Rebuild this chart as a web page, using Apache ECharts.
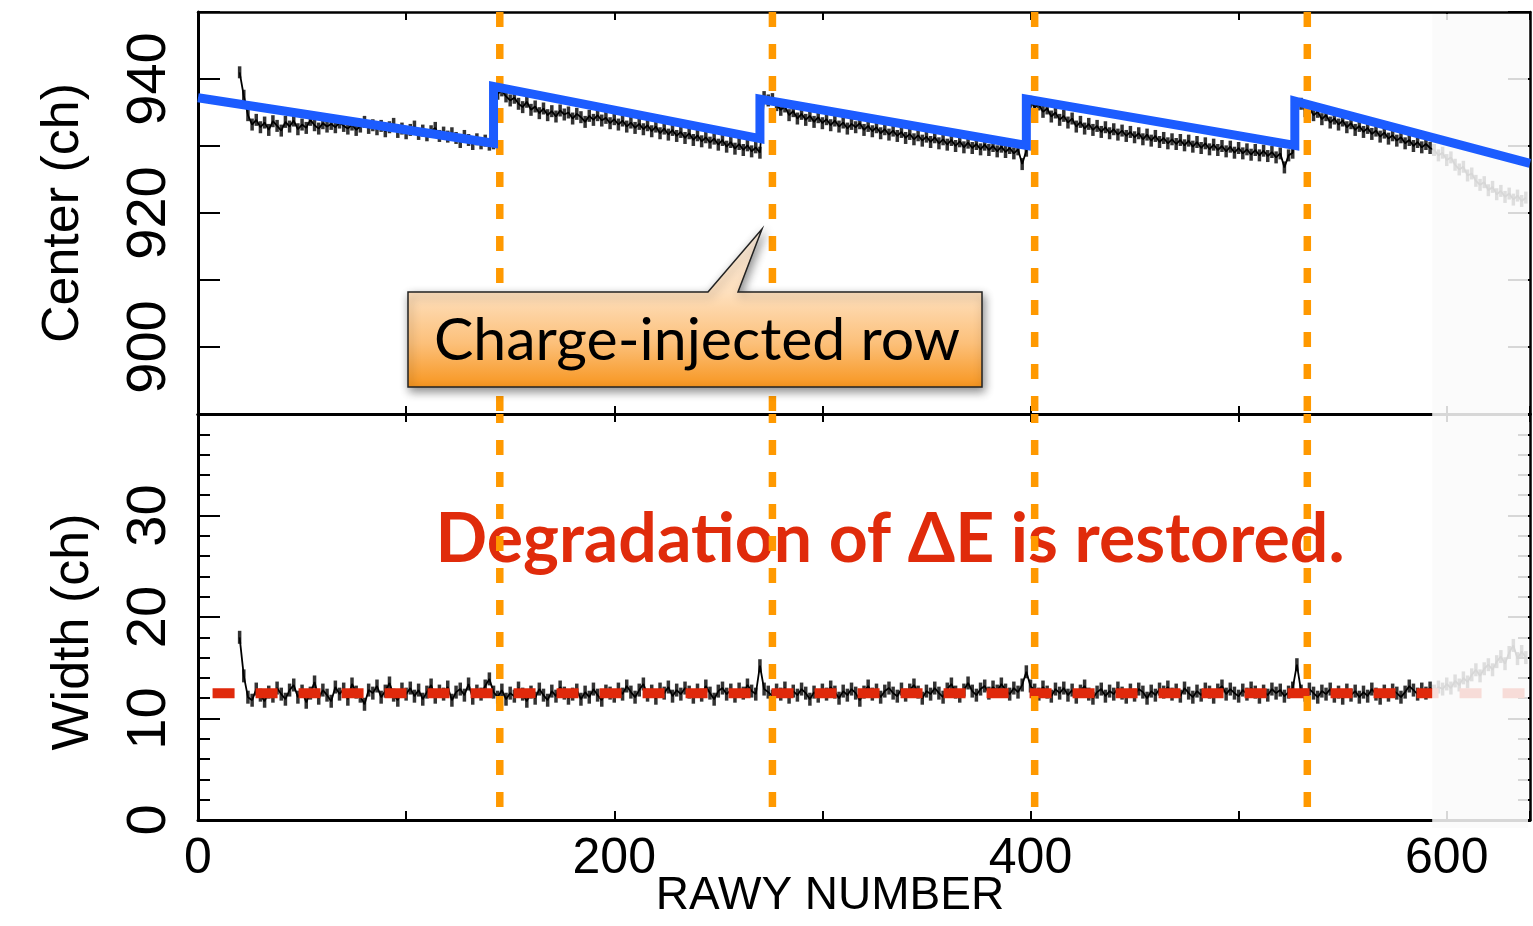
<!DOCTYPE html>
<html><head><meta charset="utf-8">
<script src="https://cdn.jsdelivr.net/npm/echarts/dist/echarts.min.js"></script>
<style>html,body{margin:0;padding:0;background:#fff}#c{width:1533px;height:926px}</style>
</head><body><div id="c"></div>
<script>
// ---------- data ----------
const rowStart = 20, rowStep = 2;   // RAWY number of first point, spacing between points
const centerValues = [
 941.0, 937.5, 934.6, 933.2, 933.9, 932.8, 933.5, 932.4, 933.7, 933.0,
 932.3, 933.6, 932.9, 933.8, 932.5, 933.2, 932.7, 933.9, 933.1, 932.6,
 933.4, 932.9, 933.3, 932.8, 933.5, 933.0, 932.6, 933.2, 932.4, 932.9,
 933.6, 932.7, 933.1, 932.5, 933.0, 932.2, 932.8, 933.3, 932.1, 932.6,
 931.9, 932.4, 932.9, 931.8, 932.3, 931.6, 932.2, 932.7, 931.5, 932.0,
 931.4, 931.9, 931.2, 930.6, 931.5, 930.9, 930.3, 931.0, 930.4, 930.8,
 930.2, 930.4, 937.8, 938.3, 937.4, 936.8, 937.2, 936.3, 935.8, 936.6,
 935.4, 935.9, 934.9, 935.6, 934.6, 935.2, 934.4, 935.3, 934.7, 935.0,
 934.1, 934.8, 934.3, 933.6, 934.5, 933.9, 934.6, 933.8, 934.2, 933.4,
 934.0, 933.2, 933.8, 932.9, 933.5, 932.7, 933.3, 932.5, 933.1, 932.2,
 932.9, 931.9, 932.6, 931.7, 932.4, 931.5, 932.1, 931.2, 931.9, 930.9,
 931.6, 930.7, 931.3, 930.5, 931.1, 930.2, 930.9, 929.9, 930.6, 929.6,
 930.3, 929.4, 930.1, 929.2, 929.8, 929.0, 937.3, 936.8, 937.0, 936.1,
 935.4, 935.9, 934.6, 935.2, 934.1, 934.8, 933.9, 934.5, 933.6, 934.3,
 933.4, 934.0, 933.1, 933.8, 932.9, 933.5, 932.6, 933.3, 932.8, 933.4,
 932.4, 933.0, 932.2, 932.8, 931.9, 932.5, 931.7, 932.3, 931.5, 932.1,
 931.2, 931.8, 931.0, 931.6, 930.8, 931.4, 930.6, 931.3, 930.4, 931.0,
 930.2, 930.9, 930.0, 930.7, 929.8, 930.5, 929.7, 930.3, 929.5, 930.2,
 929.4, 930.0, 929.2, 929.9, 929.1, 929.7, 928.9, 929.5, 927.3, 929.3,
 936.6, 935.8, 936.2, 935.1, 935.6, 934.4, 935.0, 933.9, 934.5, 933.5,
 934.1, 932.9, 933.6, 932.6, 933.3, 932.4, 933.0, 932.1, 932.8, 931.9,
 932.5, 931.7, 932.3, 931.5, 932.1, 931.3, 931.9, 931.0, 931.7, 930.8,
 931.5, 930.6, 931.2, 930.4, 931.0, 930.3, 930.9, 930.1, 930.8, 929.9,
 930.6, 929.7, 930.4, 929.5, 930.2, 929.4, 930.0, 929.2, 929.9, 929.0,
 929.7, 928.9, 929.5, 928.7, 929.4, 928.6, 929.3, 928.5, 929.1, 928.3,
 928.9, 926.8, 928.6, 929.0, 935.9, 936.3, 935.2, 935.7, 934.6, 935.1,
 934.0, 934.6, 933.5, 934.1, 933.2, 933.8, 932.8, 933.4, 932.4, 933.0,
 932.1, 932.7, 931.8, 932.3, 931.4, 932.0, 931.1, 931.6, 930.8, 931.3,
 930.4, 930.9, 930.0, 930.6, 929.8, 930.3, 929.7, 929.4, 928.6, 929.0,
 927.9, 928.3, 927.2, 926.5, 926.9, 925.6, 925.9, 924.8, 924.2, 924.6,
 923.4, 923.9, 922.8, 923.3, 922.4, 922.9, 922.0, 922.6, 921.8, 922.3
];
const widthValues = [
 18.0, 14.2, 12.1, 11.8, 12.9, 12.3, 11.7, 12.6, 12.2, 13.0,
 12.4, 11.9, 12.8, 13.3, 12.1, 12.7, 11.6, 12.5, 13.6, 12.0,
 12.8, 12.3, 11.7, 13.1, 12.4, 12.9, 11.9, 13.4, 12.6, 12.2,
 11.4, 12.8, 12.5, 13.2, 12.1, 12.7, 13.5, 12.3, 11.8, 12.9,
 12.4, 13.0, 12.2, 12.8, 11.9, 12.6, 13.3, 12.1, 12.7, 12.4,
 13.1, 11.8, 12.6, 12.9, 12.3, 13.4, 12.0, 12.7, 12.4, 13.2,
 13.9, 12.6, 12.1, 12.8, 11.9, 12.5, 12.2, 13.0, 12.4, 11.7,
 12.6, 12.0, 12.9, 12.3, 11.8, 12.7, 12.2, 13.1, 12.5, 12.0,
 12.4, 12.8, 11.9, 12.6, 12.1, 12.9, 12.3, 11.8, 12.7, 12.5,
 12.2, 12.9, 12.4, 13.2, 12.6, 12.1, 12.8, 13.4, 12.3, 12.7,
 12.0, 12.9, 12.5, 13.1, 12.2, 12.8, 12.4, 13.0, 12.6, 12.1,
 12.8, 12.3, 13.2, 12.5, 11.9, 12.7, 13.0, 12.4, 12.8, 12.2,
 12.9, 12.5, 13.3, 12.7, 12.4, 15.2, 12.9, 12.6, 12.2, 12.8,
 12.4, 13.0, 12.1, 12.7, 12.3, 12.9, 12.5, 11.9, 12.6, 12.2,
 12.8, 12.4, 13.1, 12.6, 12.0, 12.7, 12.3, 12.9, 12.5, 11.8,
 12.6, 13.2, 12.4, 12.8, 12.1, 12.7, 13.0, 12.5, 12.2, 12.9,
 12.3, 12.8, 13.3, 12.6, 12.0, 12.7, 12.4, 13.0, 12.5, 12.1,
 12.9, 13.4, 12.6, 12.2, 12.8, 13.5, 12.7, 12.3, 12.9, 13.2,
 12.5, 13.1, 12.7, 13.4, 12.8, 12.4, 13.0, 12.6, 13.3, 14.6,
 13.2, 12.8, 12.4, 13.1, 12.6, 12.2, 12.9, 12.5, 13.0, 12.3,
 12.8, 12.1, 12.7, 13.2, 12.4, 12.0, 12.6, 12.9, 12.2, 12.7,
 12.4, 13.0, 12.5, 12.1, 12.8, 12.3, 12.9, 12.6, 12.0, 12.7,
 12.3, 12.9, 12.6, 13.1, 12.4, 12.8, 12.2, 13.0, 12.5, 12.1,
 12.7, 12.3, 12.9, 12.6, 12.1, 12.8, 13.2, 12.4, 12.9, 12.5,
 12.2, 12.8, 12.4, 13.0, 12.6, 12.1, 12.7, 12.3, 12.9, 12.5,
 12.8, 12.2, 12.6, 13.0, 15.3, 12.7, 12.3, 12.9, 12.5, 12.1,
 12.7, 12.4, 12.9, 12.2, 12.6, 12.0, 12.8, 12.3, 12.7, 12.1,
 12.6, 12.2, 12.9, 12.4, 12.0, 12.7, 12.3, 12.8, 12.5, 12.1,
 12.6, 13.2, 12.8, 12.4, 12.9, 12.5, 13.0, 12.7, 13.1, 12.9,
 13.4, 13.0, 13.7, 13.3, 14.0, 13.6, 14.3, 14.8, 14.2, 14.9,
 15.3, 14.8, 15.6, 16.1, 15.4, 16.5, 17.2, 15.9, 16.6, 16.0
];
const fitRows   = [0, 142, 142, 270, 270, 398, 398, 527, 527, 640];
const fitValues = [937.2, 930.4, 938.9, 931.1, 937.0, 930.1, 937.0, 930.1, 936.7, 927.4];
const injectRows = [145, 276, 402, 533];
const widthRef = 12.5;
const widthRefRows = [7, 640];
const fadeFromRow = 593;
const xRange = [0, 640];
const centerRange = [890, 950];
const widthRange = [0, 40];
const xLabelValues = [0, 200, 400, 600];
const centerLabelValues = [900, 920, 940];
const widthLabelValues = [0, 10, 20, 30];

// ---------- chart ----------
const chart = echarts.init(document.getElementById('c'), null, {renderer: 'canvas'});
const BLACK = '#000';
const tickFont = 'Liberation Sans';
const line = w => ({show: true, onZero: false, lineStyle: {color: BLACK, width: w}});
const tick = (len, w) => ({show: true, inside: true, length: len, lineStyle: {color: BLACK, width: w || 2}});
const noLabel = {show: false};
const noSplit = {show: false};

const centerPts = centerValues.map((v, i) => [rowStart + i * rowStep, v]);
const widthPts = widthValues.map((v, i) => [rowStart + i * rowStep, v]);
const fitPts = fitRows.map((r, i) => [r, fitValues[i]]);

const series = [
  {type: 'line', xAxisIndex: 0, yAxisIndex: 0, data: centerPts, symbol: 'none',
   lineStyle: {color: BLACK, width: 1.8}, z: 3, silent: true},
  {type: 'scatter', xAxisIndex: 0, yAxisIndex: 0, data: centerPts, symbol: 'rect', symbolSize: [3.5, 12],
   itemStyle: {color: BLACK}, z: 3, silent: true},
  {type: 'line', xAxisIndex: 2, yAxisIndex: 2, data: widthPts, symbol: 'none',
   lineStyle: {color: BLACK, width: 1.8}, z: 3, silent: true},
  {type: 'scatter', xAxisIndex: 2, yAxisIndex: 2, data: widthPts, symbol: 'rect', symbolSize: [3.5, 13],
   itemStyle: {color: BLACK}, z: 3, silent: true},
  {type: 'line', xAxisIndex: 2, yAxisIndex: 2, data: widthRefRows.map(r => [r, widthRef]), symbol: 'none',
   lineStyle: {color: '#e0290b', width: 10, type: [22, 21], cap: 'butt'}, z: 4, silent: true},
];
injectRows.forEach(r => {
  series.push({type: 'line', xAxisIndex: 0, yAxisIndex: 0, data: [[r, centerRange[1]], [r, centerRange[0]]], symbol: 'none',
    lineStyle: {color: '#ff9900', width: 7.5, type: [15, 17]}, z: 6, silent: true});
  series.push({type: 'line', xAxisIndex: 2, yAxisIndex: 2, data: [[r, widthRange[1]], [r, widthRange[0]]], symbol: 'none',
    lineStyle: {color: '#ff9900', width: 7.5, type: [15, 17], dashOffset: 6}, z: 6, silent: true});
});
series.push({type: 'line', xAxisIndex: 0, yAxisIndex: 0, data: fitPts, symbol: 'none',
  lineStyle: {color: '#1c5cff', width: 9, join: 'miter'}, z: 10, silent: true});

const yLabel = (vals) => ({show: true, rotate: 90, margin: 20, fontSize: 56, lineHeight: 56, fontFamily: tickFont, color: BLACK,
  formatter: v => vals.includes(v) ? String(v) : ''});

chart.setOption({
  animation: false,
  backgroundColor: '#fff',
  grid: [
    {left: 198, right: 3, top: 12, height: 402, containLabel: false, outerBoundsMode: 'none'},
    {left: 198, right: 3, top: 414, height: 406, containLabel: false, outerBoundsMode: 'none'}
  ],
  xAxis: [
    {gridIndex: 0, type: 'value', min: xRange[0], max: xRange[1], interval: 100, position: 'bottom',
     axisLine: line(3), axisTick: tick(8), axisLabel: noLabel, splitLine: noSplit},
    {gridIndex: 0, type: 'value', min: xRange[0], max: xRange[1], interval: 100, position: 'top',
     axisLine: line(2.5), axisTick: tick(8), axisLabel: noLabel, splitLine: noSplit},
    {gridIndex: 1, type: 'value', min: xRange[0], max: xRange[1], interval: 100, position: 'bottom',
     axisLine: line(3), axisTick: tick(9), splitLine: noSplit,
     axisLabel: {show: true, margin: 14, fontSize: 50, lineHeight: 50, fontFamily: tickFont, color: BLACK,
       formatter: v => xLabelValues.includes(v) ? String(v) : ''},
     name: 'RAWY NUMBER', nameLocation: 'middle', nameGap: 53, nameMoveOverlap: false,
     nameTextStyle: {fontSize: 46, lineHeight: 46, fontFamily: tickFont, color: BLACK, padding: [0, 68, 0, 0]}},
    {gridIndex: 1, type: 'value', min: xRange[0], max: xRange[1], interval: 100, position: 'top',
     axisLine: line(3), axisTick: tick(8), axisLabel: noLabel, splitLine: noSplit}
  ],
  yAxis: [
    {gridIndex: 0, type: 'value', min: centerRange[0], max: centerRange[1], interval: 10, position: 'left',
     axisLine: line(3), axisTick: tick(22), splitLine: noSplit, axisLabel: yLabel(centerLabelValues),
     name: 'Center (ch)', nameLocation: 'middle', nameRotate: 90, nameGap: 108, nameMoveOverlap: false,
     nameTextStyle: {fontSize: 52, lineHeight: 52, fontFamily: tickFont, color: BLACK}},
    {gridIndex: 0, type: 'value', min: centerRange[0], max: centerRange[1], interval: 10, position: 'right',
     axisLine: line(2.5), axisTick: tick(22), splitLine: noSplit, axisLabel: noLabel},
    {gridIndex: 1, type: 'value', min: widthRange[0], max: widthRange[1], interval: 10, position: 'left',
     axisLine: line(3), axisTick: tick(22), splitLine: noSplit, axisLabel: yLabel(widthLabelValues),
     minorTick: {show: true, splitNumber: 5, length: 12, lineStyle: {color: BLACK, width: 2}},
     name: 'Width (ch)', nameLocation: 'middle', nameRotate: 90, nameGap: 98, nameMoveOverlap: false,
     nameTextStyle: {fontSize: 52, lineHeight: 52, fontFamily: tickFont, color: BLACK, padding: [0, 30, 0, 0]}},
    {gridIndex: 1, type: 'value', min: widthRange[0], max: widthRange[1], interval: 10, position: 'right',
     axisLine: line(2.5), axisTick: tick(22), splitLine: noSplit, axisLabel: noLabel,
     minorTick: {show: true, splitNumber: 5, length: 12, lineStyle: {color: BLACK, width: 2}}}
  ],
  series: series
});

// overlay for the unused region, placed through the axes' own scales
const fx0 = chart.convertToPixel({xAxisIndex: 0}, fadeFromRow);
const fx1 = chart.convertToPixel({xAxisIndex: 0}, xRange[1]);
const fyTop = chart.convertToPixel({yAxisIndex: 0}, centerRange[1]);
const fyBot = chart.convertToPixel({yAxisIndex: 2}, widthRange[0]);

chart.setOption({
  graphic: [
    {type: 'rect', id: 'fade', z: 7, silent: true,
     shape: {x: fx0, y: fyTop + 2, width: fx1 - fx0 - 2, height: fyBot - fyTop + 6},
     style: {fill: 'rgba(250,250,250,0.86)'}},
    {type: 'text', id: 'restored', z: 5, silent: true,
     style: {text: 'Degradation of \u0394E is restored.', x: 890, y: 540, align: 'center', verticalAlign: 'middle',
       font: 'bold 68px Lato', fill: '#e02b0b'}},
    {type: 'polygon', id: 'callout', z: 20, silent: true,
     shape: {points: [[408, 292], [708, 292], [762, 229], [738, 292], [982, 292], [982, 387], [408, 387]]},
     style: {
       fill: {type: 'linear', x: 0, y: 0, x2: 0, y2: 1, colorStops: [
         {offset: 0, color: '#fff0e0'}, {offset: 0.4, color: '#fee0be'},
         {offset: 0.72, color: '#fcc07a'}, {offset: 1, color: '#f7951e'}]},
       stroke: '#222', lineWidth: 1.5,
       shadowBlur: 10, shadowColor: 'rgba(0,0,0,0.45)', shadowOffsetX: 2, shadowOffsetY: 4}},
    {type: 'text', id: 'calloutText', z: 21, silent: true,
     style: {text: 'Charge-injected row', x: 697, y: 341, align: 'center', verticalAlign: 'middle',
       font: '59px Lato', fill: '#000'}}
  ]
});
</script>
</body></html>
